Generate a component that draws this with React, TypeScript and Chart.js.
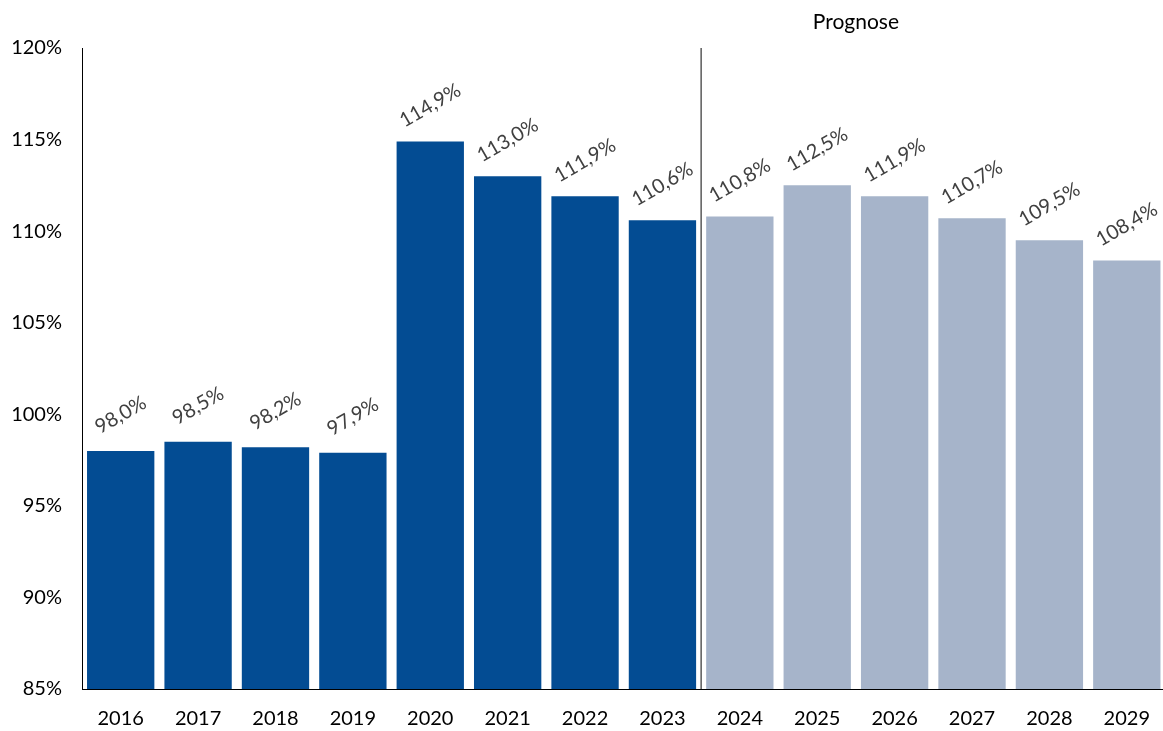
import React, { useEffect, useRef } from "react";
import { Chart, registerables } from "chart.js";
Chart.register(...registerables);

const categories = ["2016","2017","2018","2019","2020","2021","2022","2023","2024","2025","2026","2027","2028","2029"];
const values = [98.0, 98.5, 98.2, 97.9, 114.9, 113.0, 111.9, 110.6, 110.8, 112.5, 111.9, 110.7, 109.5, 108.4];
const forecastStartIndex = 8;
const forecastLabel = "Prognose";
const yMin = 85;
const yMax = 120;
const yStep = 5;

const DARK = "#034C93";
const LIGHT = "#A6B4CA";
const FONT = "Lato, 'Noto Sans', sans-serif";

const fmt = (v: number) => v.toFixed(1).replace(".", ",") + "%";

const overlayPlugin = {
  id: "overlay",
  afterDatasetsDraw(chart: any) {
    const { ctx, chartArea, scales } = chart;
    const x = scales.x;
    const meta = chart.getDatasetMeta(0);
    ctx.save();
    // separator
    const sx = x.getPixelForValue(forecastStartIndex - 0.5);
    ctx.strokeStyle = "#595959";
    ctx.lineWidth = 1.5;
    ctx.beginPath();
    ctx.moveTo(sx, chartArea.top);
    ctx.lineTo(sx, chartArea.bottom);
    ctx.stroke();
    // Prognose label
    ctx.fillStyle = "#000";
    ctx.font = `21px ${FONT}`;
    ctx.textAlign = "center";
    ctx.textBaseline = "middle";
    ctx.fillText(forecastLabel, x.getPixelForValue(9.5), 22);
    // data labels
    ctx.fillStyle = "#404040";
    ctx.font = `20px ${FONT}`;
    meta.data.forEach((bar: any, i: number) => {
      ctx.save();
      ctx.translate(bar.x, bar.y - 36);
      ctx.rotate(-Math.PI / 6);
      ctx.fillText(fmt(values[i]), 0, 0);
      ctx.restore();
    });
    ctx.restore();
  },
};

export default function App() {
  const ref = useRef<HTMLCanvasElement>(null);
  useEffect(() => {
    document.body.style.margin = "0";
    document.body.style.overflow = "hidden";
    const chart = new Chart(ref.current!, {
      type: "bar",
      data: {
        labels: categories,
        datasets: [
          {
            data: values,
            backgroundColor: values.map((_, i) => (i < forecastStartIndex ? DARK : LIGHT)),
            categoryPercentage: 0.87,
            barPercentage: 1,
          },
        ],
      },
      options: {
        animation: false,
        responsive: false,
        maintainAspectRatio: false,
        layout: { padding: { top: 48, left: 0, right: 0, bottom: 0 } },
        plugins: { legend: { display: false }, tooltip: { enabled: false } },
        scales: {
          x: {
            grid: { display: false, drawTicks: false },
            border: { display: true, color: "#000", width: 1 },
            ticks: { color: "#000", font: { family: FONT, size: 20 }, padding: 18, maxRotation: 0 },
            afterFit: (s: any) => { s.height = 42; },
          },
          y: {
            min: yMin,
            max: yMax,
            grid: { display: false, drawTicks: false },
            border: { display: true, color: "#000", width: 1 },
            ticks: {
              stepSize: yStep,
              color: "#000",
              font: { family: FONT, size: 20 },
              padding: 20,
              callback: (v: any) => v + "%",
            },
            afterFit: (s: any) => { s.width = 82; },
          },
        },
      },
      plugins: [overlayPlugin],
    });
    return () => chart.destroy();
  }, []);
  return (
    <div style={{ position: "absolute", left: 0, top: 0, width: 1168, height: 731 }}>
      <canvas ref={ref} width={1168} height={731} style={{ width: 1168, height: 731 }} />
    </div>
  );
}
